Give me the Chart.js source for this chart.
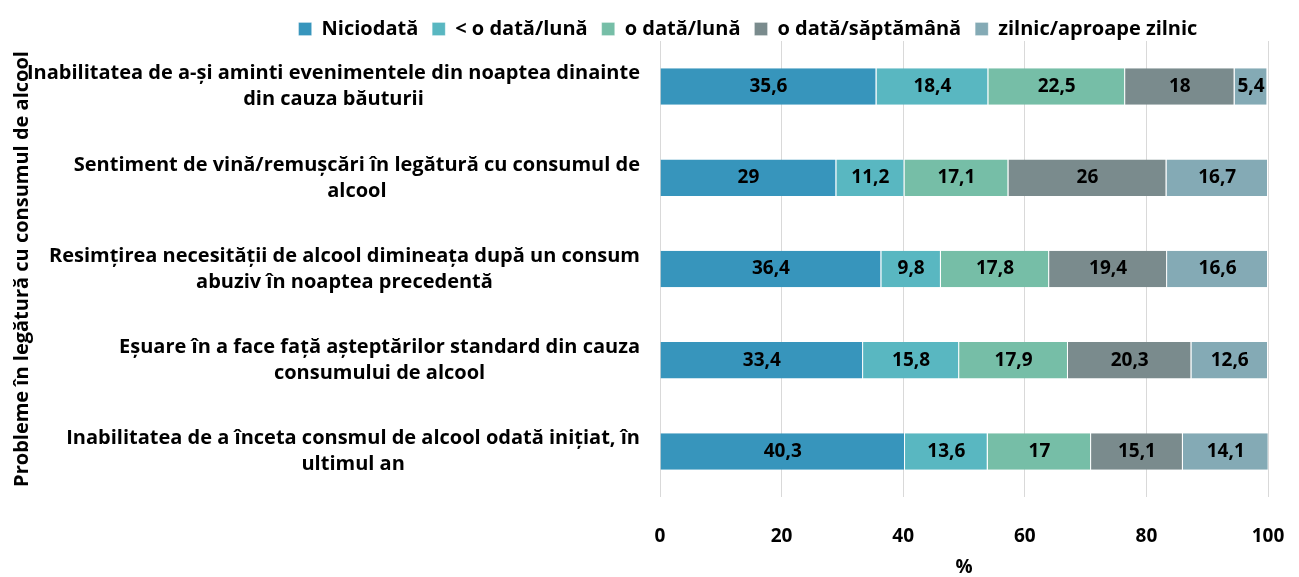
<!DOCTYPE html>
<html>
<head>
<meta charset="utf-8">
<script src="https://cdn.jsdelivr.net/npm/chart.js@4"></script>
<style>
  html, body { margin: 0; padding: 0; background: #fff; }
  #wrap { width: 1299px; height: 577px; }
</style>
</head>
<body>
<div id="wrap"><canvas id="chart" width="1299" height="577"></canvas></div>
<script>
// categorii (de sus in jos)
const categories = [
    ['Inabilitatea de a-și aminti evenimentele din noaptea dinainte', 'din cauza băuturii'],
    ['Sentiment de vină/remușcări în legătură cu consumul de', 'alcool'],
    ['Resimțirea necesității de alcool dimineața după un consum', 'abuziv în noaptea precedentă'],
    ['Eșuare în a face față așteptărilor standard din cauza', 'consumului de alcool'],
    ['Inabilitatea de a înceta consmul de alcool odată inițiat, în', 'ultimul an']
];

const seriesNames = ['Niciodată', '< o dată/lună', 'o dată/lună', 'o dată/săptămână', 'zilnic/aproape zilnic'];

const niciodata = [35.6, 29, 36.4, 33.4, 40.3];
const subLuna = [18.4, 11.2, 9.8, 15.8, 13.6];
const lunar = [22.5, 17.1, 17.8, 17.9, 17];
const saptamanal = [18, 26, 19.4, 20.3, 15.1];
const zilnic = [5.4, 16.7, 16.6, 12.6, 14.1];

const xTicks = [0, 20, 40, 60, 80, 100];

const colors = ['#3795bc', '#59b7c1', '#76bea7', '#7a8b8d', '#84aab5'];
const FONT = 'Open Sans';
const FS = 19;

const seriesValues = [niciodata, subLuna, lunar, saptamanal, zilnic];

// etichete pe axa Y, centrate in bloc, blocul aliniat la dreapta
const yLabelsPlugin = {
    id: 'yLabels',
    afterDraw(chart) {
        const ctx = chart.ctx;
        const yScale = chart.scales.y;
        ctx.save();
        ctx.font = 'bold 20px ' + FONT;
        ctx.fillStyle = '#000';
        ctx.textAlign = 'center';
        ctx.textBaseline = 'middle';
        categories.forEach((lines, i) => {
            const y = yScale.getPixelForTick(i);
            const blockW = Math.max(...lines.map(l => ctx.measureText(l).width));
            const cx = 640 - blockW / 2;
            lines.forEach((line, j) => {
                ctx.fillText(line, cx, y + (j - (lines.length - 1) / 2) * 26);
            });
        });
        ctx.restore();
    }
};

// valori in interiorul barelor
const barLabelsPlugin = {
    id: 'barLabels',
    afterDatasetsDraw(chart) {
        const ctx = chart.ctx;
        ctx.save();
        ctx.font = 'bold ' + FS + 'px ' + FONT;
        ctx.fillStyle = '#000';
        ctx.textAlign = 'center';
        ctx.textBaseline = 'middle';
        chart.data.datasets.forEach((ds, di) => {
            const meta = chart.getDatasetMeta(di);
            meta.data.forEach((bar, i) => {
                const cx = (bar.x + bar.base) / 2;
                ctx.fillText(String(ds.data[i]).replace('.', ','), cx, bar.y);
            });
        });
        ctx.restore();
    }
};

// legenda mutata jos si spre dreapta, fara sa mute zona graficului
const legendShift = {
    id: 'legendShift',
    afterLayout(chart) {
        const lg = chart.legend;
        if (lg) {
            lg.top += 8;
            lg.bottom += 8;
            lg.left += 114;
            lg.right += 114;
        }
    }
};

new Chart(document.getElementById('chart'), {
    type: 'bar',
    data: {
        labels: categories,
        datasets: seriesNames.map((name, i) => ({
            label: name,
            data: seriesValues[i],
            backgroundColor: colors[i],
            borderColor: '#ffffff',
            borderWidth: { left: 0, right: 1, top: 0, bottom: 0 },
            borderSkipped: false,
            barPercentage: 0.4,
            categoryPercentage: 1
        }))
    },
    options: {
        indexAxis: 'y',
        responsive: false,
        animation: false,
        layout: { padding: { top: -3, right: 31, bottom: 0, left: 0 } },
        scales: {
            x: {
                stacked: true,
                min: 0,
                max: 100,
                afterBuildTicks(scale) {
                    scale.ticks = xTicks.map(v => ({ value: v }));
                },
                afterFit(scale) {
                    scale.height = 80;
                    scale.paddingLeft = 0;
                    scale.paddingRight = 0;
                },
                grid: { color: '#d9d9d9', drawTicks: false },
                border: { display: false },
                ticks: {
                    color: '#000',
                    padding: 28,
                    font: { family: FONT, size: FS, weight: 'bold' }
                },
                title: {
                    display: true,
                    text: '%',
                    color: '#000',
                    padding: 0,
                    font: { family: FONT, size: FS, weight: 'bold', lineHeight: 1 }
                }
            },
            y: {
                stacked: true,
                afterFit(scale) { scale.width = 660; },
                grid: { display: false },
                border: { display: false },
                ticks: { display: false },
                title: {
                    display: true,
                    text: 'Probleme în legătură cu consumul de alcool',
                    color: '#000',
                    padding: { top: 10, bottom: 0 },
                    font: { family: FONT, size: 20, weight: 'bold' }
                }
            }
        },
        plugins: {
            legend: {
                position: 'top',
                labels: {
                    color: '#000',
                    boxWidth: 13,
                    boxHeight: 13,
                    padding: 14,
                    font: { family: FONT, size: 20, weight: 'bold', lineHeight: 1 }
                }
            },
            tooltip: { enabled: false }
        }
    },
    plugins: [yLabelsPlugin, barLabelsPlugin, legendShift]
});
</script>
</body>
</html>
